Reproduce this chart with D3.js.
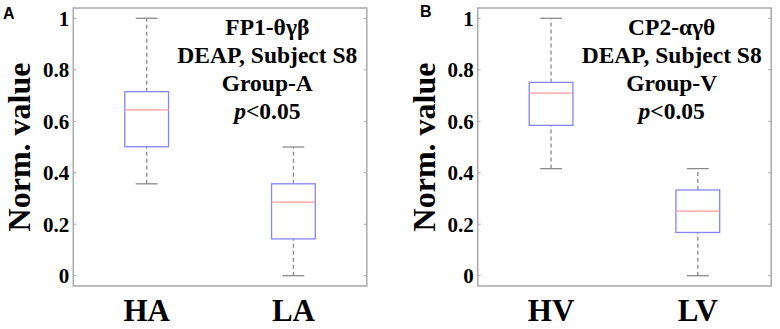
<!DOCTYPE html>
<html>
<head>
<meta charset="utf-8">
<script src="https://cdnjs.cloudflare.com/ajax/libs/d3/7.8.5/d3.min.js"></script>
<style>
  body { margin: 0; background: #fff; }
  text { font-family: "Liberation Serif", "Times New Roman", serif; font-weight: bold; fill: #000; }
</style>
</head>
<body>
<div id="chart"></div>
<script>
// data (normalized values)
var panelLetters = ["A", "B"];
var groupsA = ["HA", "LA"];
var groupsB = ["HV", "LV"];
// [min, q1, median, q3, max] per group
var statsA = [[0.357, 0.501, 0.644, 0.715, 1.0], [0.0, 0.143, 0.286, 0.357, 0.5]];
var statsB = [[0.416, 0.584, 0.709, 0.751, 1.0], [0.0, 0.168, 0.251, 0.333, 0.416]];
var notesA = ["FP1-θγβ", "DEAP, Subject S8", "Group-A", "<0.05"];
var notesB = ["CP2-αγθ", "DEAP, Subject S8", "Group-V", "<0.05"];
var yTicks = [0, 0.2, 0.4, 0.6, 0.8, 1];

var W = 780, H = 329;
var svg = d3.select("#chart").append("svg")
    .attr("width", W)
    .attr("height", H);

var frameW = 293.5, frameTop = 8, frameBottom = 286;

var y = d3.scaleLinear().domain([-0.04, 1.04]).range([frameBottom, frameTop]);

function drawPanel(left, letter, letterX, letterY, groups, stats, notes) {
    var g = svg.append("g").attr("transform", "translate(" + left + ",0)");
    var x = d3.scalePoint().domain(groups).range([0, frameW]).padding(0.5);
    var boxW = frameW * 0.149;

    // frame
    g.append("rect")
        .attr("x", 0).attr("y", frameTop)
        .attr("width", frameW).attr("height", frameBottom - frameTop)
        .attr("fill", "none")
        .attr("stroke", "#a9a9a9")
        .attr("stroke-width", 1.5);

    // inward ticks on both sides
    yTicks.forEach(function (t) {
        g.append("line").attr("x1", 0).attr("x2", 3).attr("y1", y(t)).attr("y2", y(t))
            .attr("stroke", "#a9a9a9").attr("stroke-width", 1);
        g.append("line").attr("x1", frameW - 3).attr("x2", frameW).attr("y1", y(t)).attr("y2", y(t))
            .attr("stroke", "#a9a9a9").attr("stroke-width", 1);
    });

    // tick labels
    g.selectAll(".ytl")
        .data(yTicks)
        .enter().append("text")
        .attr("class", "ytl")
        .attr("x", -4)
        .attr("y", function (d) { return y(d); })
        .attr("dy", "0.35em")
        .attr("text-anchor", "end")
        .style("font-size", "21px")
        .text(function (d) { return d3.format("~g")(d); });

    // y label
    g.append("text")
        .attr("transform", "translate(-43," + ((frameTop + frameBottom) / 2) + ") rotate(-90)")
        .attr("text-anchor", "middle")
        .style("font-size", "32px")
        .text("Norm. value");

    // category labels
    g.selectAll(".cat")
        .data(groups)
        .enter().append("text")
        .attr("class", "cat")
        .attr("x", function (d) { return x(d); })
        .attr("y", 321)
        .attr("text-anchor", "middle")
        .style("font-size", "31px")
        .text(function (d) { return d; });

    // boxes
    var box = g.selectAll(".box")
        .data(groups)
        .enter().append("g")
        .attr("class", "box");

    box.each(function (d, i) {
        var s = stats[i], cx = x(d), b = d3.select(this);
        // whiskers
        [[s[0], s[1]], [s[3], s[4]]].forEach(function (w) {
            b.append("line")
                .attr("x1", cx).attr("x2", cx)
                .attr("y1", y(w[0])).attr("y2", y(w[1]))
                .attr("stroke", "#8a8a8a").attr("stroke-width", 1.3)
                .attr("stroke-dasharray", "4,3");
        });
        [s[0], s[4]].forEach(function (v) {
            b.append("line")
                .attr("x1", cx - boxW / 4).attr("x2", cx + boxW / 4)
                .attr("y1", y(v)).attr("y2", y(v))
                .attr("stroke", "#8a8a8a").attr("stroke-width", 1.3);
        });
        b.append("rect")
            .attr("x", cx - boxW / 2).attr("y", y(s[3]))
            .attr("width", boxW).attr("height", y(s[1]) - y(s[3]))
            .attr("fill", "none")
            .attr("stroke", "#8585ff").attr("stroke-width", 1.3);
        b.append("line")
            .attr("x1", cx - boxW / 2).attr("x2", cx + boxW / 2)
            .attr("y1", y(s[2])).attr("y2", y(s[2]))
            .attr("stroke", "#ff9a9a").attr("stroke-width", 1.3);
    });

    // annotation
    var ax = 194;
    notes.forEach(function (n, i) {
        var t = g.append("text")
            .attr("x", ax)
            .attr("y", 35 + i * 28)
            .attr("text-anchor", "middle")
            .style("font-size", "23.5px");
        if (i === 3) {
            t.append("tspan").style("font-style", "italic").text("p");
            t.append("tspan").text(n);
        } else {
            t.text(n);
        }
    });

    // panel letter
    svg.append("text")
        .attr("x", letterX)
        .attr("y", letterY)
        .style("font-family", "'Liberation Sans', Arial, sans-serif")
        .style("font-size", "16px")
        .text(letter);
}

drawPanel(73.3, panelLetters[0], 3, 19, groupsA, statsA, notesA);
drawPanel(477.7, panelLetters[1], 420, 17, groupsB, statsB, notesB);
</script>
</body>
</html>
